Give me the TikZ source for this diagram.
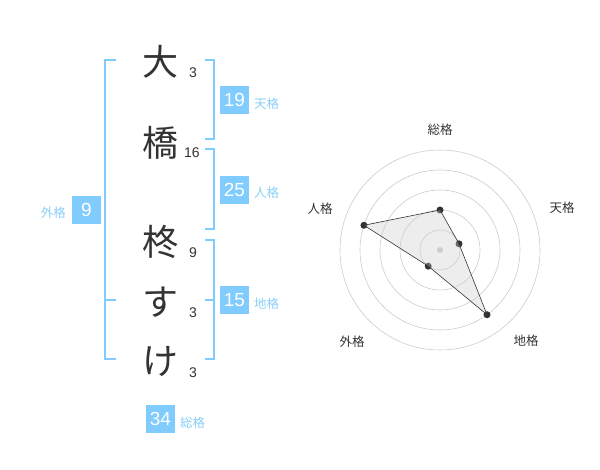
\documentclass[tikz,border=0pt]{standalone}
\usepackage{fontspec}
\newfontfamily\jp{Noto Sans CJK JP}
\newfontfamily\num{Liberation Sans}
\definecolor{sky}{HTML}{80CCFF}
\definecolor{skytxt}{HTML}{88CFF8}
\definecolor{ink}{HTML}{333333}
\definecolor{ring}{HTML}{CCCCCC}
\begin{document}
\begin{tikzpicture}[x=1pt,y=-1pt,
  kanji/.style={font=\jp\fontsize{36}{36}\selectfont, text=ink, inner sep=0pt},
  stroke/.style={font=\num\fontsize{14}{14}\selectfont, text=ink, inner sep=0pt},
  box/.style={fill=sky, text=white, minimum width=29pt, minimum height=28pt, inner sep=0pt, font=\num\fontsize{19}{19}\selectfont},
  klabel/.style={font=\jp\fontsize{12.5}{12.5}\selectfont, text=skytxt, inner sep=0pt},
  brk/.style={draw=sky, line width=1.6pt},
  rlabel/.style={font=\jp\fontsize{12.5}{12.5}\selectfont, text=ink, inner sep=0pt},
  rdot/.style={circle, fill=ink, minimum size=7pt, inner sep=0pt},
]
\useasboundingbox (0,0) rectangle (600,470);
% characters
\node[kanji] (c1) at (160,62) {大};
\node[kanji] (c2) at (160,143) {橋};
\node[kanji] (c3) at (160,242) {柊};
\node[kanji] (c4) at (160,302) {す};
\node[kanji] (c5) at (160,362) {け};
\node[stroke] (s1) at (193,73) {3};
\node[stroke] (s2) at (192,153) {16};
\node[stroke] (s3) at (193,253) {9};
\node[stroke] (s4) at (193,313) {3};
\node[stroke] (s5) at (193,373) {3};
% brackets
\draw[brk] (116,60) -- (105,60) -- (105,359) -- (116,359);
\draw[brk] (105,300) -- (116,300);
\draw[brk] (205,60) -- (214,60) -- (214,139) -- (205,139);
\draw[brk] (205,149) -- (214,149) -- (214,229) -- (205,229);
\draw[brk] (205,240) -- (214,240) -- (214,359) -- (205,359);
\draw[brk] (205,300) -- (214,300);
% boxes
\node[box] (ten) at (234.5,100) {19};
\node[klabel, anchor=west] (tenl) at (254,104) {天格};
\node[box] (jin) at (234.5,190) {25};
\node[klabel, anchor=west] (jinl) at (254,193) {人格};
\node[box] (chi) at (234.5,300) {15};
\node[klabel, anchor=west] (chil) at (254,304) {地格};
\node[box] (gai) at (86.5,210) {9};
\node[klabel, anchor=east] (gail) at (66,213) {外格};
\node[box] (sou) at (160.5,419) {34};
\node[klabel, anchor=west] (soul) at (180,423) {総格};
% radar
\begin{scope}[shift={(440,250)}, y=1pt]
  \foreach \r in {20,40,60,80,100} \draw[ring, line width=0.6pt] (0,0) circle[radius=\r];
  \node[circle, fill=ring, minimum size=6pt, inner sep=0pt] (ctr) at (0,0) {};
  \node[rdot] (pso) at (90:40) {};
  \node[rdot] (pte) at (18:20) {};
  \node[rdot] (pch) at (-54:80) {};
  \node[rdot] (pga) at (-126:20) {};
  \node[rdot] (pji) at (162:80) {};
  \fill[black!20, opacity=0.35] (pso.center) -- (pte.center) -- (pch.center) -- (pga.center) -- (pji.center) -- cycle;
  \draw[ink, line width=0.6pt] (pso.center) -- (pte.center) -- (pch.center) -- (pga.center) -- (pji.center) -- cycle;
  \node[rlabel] (lso) at (0,120) {総格};
  \node[rlabel] (lte) at (122,42) {天格};
  \node[rlabel] (lch) at (86,-91) {地格};
  \node[rlabel] (lga) at (-88,-92) {外格};
  \node[rlabel] (lji) at (-120,41) {人格};
\end{scope}
\end{tikzpicture}
\end{document}
